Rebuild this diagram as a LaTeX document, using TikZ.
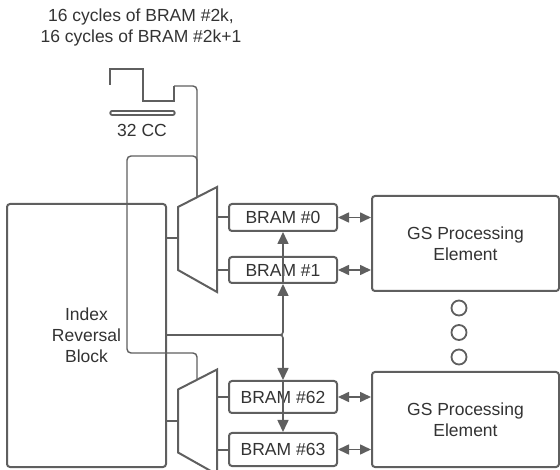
\documentclass[tikz,border=0pt]{standalone}
\usepackage{fontspec}
\setmainfont{Liberation Sans}
\usepackage{xcolor}
\usepackage{tikz}
\usetikzlibrary{arrows.meta,calc}
\definecolor{ink}{HTML}{333333}
\definecolor{wire}{HTML}{5F5F5F}
\tikzset{
  blk/.style={draw=wire, line width=2pt, rounded corners=3pt, fill=white, text=ink, align=center, inner sep=0pt, font=\fontsize{17.5}{21}\selectfont},
  mem/.style={blk, minimum width=108pt},
  pe/.style={blk, minimum width=187pt, minimum height=95pt},
  lbl/.style={text=ink, align=center, inner sep=0pt, font=\fontsize{17.5}{21}\selectfont},
  link/.style={draw=wire, line width=2pt},
  tip/.style={-{Triangle[length=12pt, width=11pt]}, draw=wire, line width=1.6pt},
  bidir/.style={{Triangle[length=11pt, width=10pt]}-{Triangle[length=11pt, width=10pt]}, draw=wire, line width=1.6pt},
}

\begin{document}
\begin{tikzpicture}[x=1pt, y=-1pt, sel/.style={draw=wire, line width=1.4pt, rounded corners=4pt}, wave/.style={draw=wire, line width=2pt}, ring/.style={circle, draw=wire, line width=1.8pt, minimum size=15pt, inner sep=0pt}]
\useasboundingbox (0,0) rectangle (560,470);
\clip (0,0) rectangle (560,470);
\node[lbl] (title) at (141,27.5) {16 cycles of BRAM \#2k,\\16 cycles of BRAM \#2k+1};
\draw[wave] (110,85) -- (110,69) -- (143,69) -- (143,101) -- (174,101) -- (174,86) coordinate (wave-end);
\draw[draw=wire, line width=2pt, double=white, double distance=1.4pt, line cap=round] (112,113) coordinate (cc-l) -- (173,113) coordinate (cc-r);
\node[lbl] (cc) at (142,130) {32 CC};
\node[blk, minimum width=159pt, minimum height=263pt] (irb) at (86.5,335.5) {Index\\Reversal\\Block};
\foreach \m/\dy in {A/0,B/182.5} {
  \draw[link, fill=white] (178,207+\dy) coordinate (mux\m-nw) -- (217,187+\dy) coordinate (mux\m-ne) -- (217,292+\dy) coordinate (mux\m-se) -- (178,270+\dy) coordinate (mux\m-sw) -- cycle;
  \coordinate (mux\m-in) at ($(mux\m-nw)!0.5!(mux\m-sw)$);
  \coordinate (mux\m-sel) at ($(mux\m-nw)!0.487!(mux\m-ne)$);
  \draw[link] (irb.east |- mux\m-in) -- (mux\m-in);
}
\node[mem, minimum height=27pt] (bram0) at (283,217.5) {BRAM \#0};
\node[mem, minimum height=26pt] (bram1) at (283,270) {BRAM \#1};
\node[mem, minimum height=32pt] (bram62) at (283,397) {BRAM \#62};
\node[mem, minimum height=33pt] (bram63) at (283,449.5) {BRAM \#63};
\node[pe] (peA) at (465.5,243.5) {GS Processing\\Element};
\node[pe] (peB) at (465.5,419.5) {GS Processing\\Element};
\foreach \i/\y in {1/308,2/332.5,3/357} \node[ring] (dot\i) at (459,\y) {};
\foreach \b/\m in {bram0/A, bram1/A, bram62/B, bram63/B} \draw[link] (mux\m-ne |- \b.west) -- (\b.west);
\foreach \b/\p in {bram0/peA, bram1/peA, bram62/peB, bram63/peB} \draw[bidir] (\b.east) -- (\b.east -| \p.west);
\coordinate (jn) at (283,335);
\draw[tip, rounded corners=3pt] (irb.east |- jn) -- (jn) -- (bram1.south);
\draw[tip] (bram1.south) -- (bram0.south);
\draw[tip, rounded corners=3pt] (irb.east |- jn) -- (jn) -- (bram62.north);
\draw[tip] (bram62.north) -- (bram63.north);
\draw[sel] (wave-end) -| (muxA-sel);
\draw[sel] (muxA-sel) |- (127,156) -- (127,353) -| (muxB-sel);
\end{tikzpicture}
\end{document}
